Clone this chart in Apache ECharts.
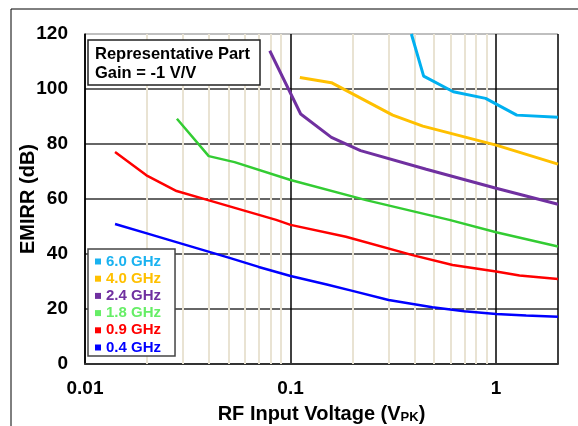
<!DOCTYPE html>
<html>
<head>
<meta charset="utf-8">
<script src="https://cdn.jsdelivr.net/npm/echarts@6/dist/echarts.min.js"></script>
<style>
html,body{margin:0;padding:0;background:#fff;}
#chart{width:578px;height:426px;}
</style>
</head>
<body>
<div id="chart"></div>
<script>
// ---- data ----
var seriesNames = ['6.0 GHz', '4.0 GHz', '2.4 GHz', '1.8 GHz', '0.9 GHz', '0.4 GHz'];
var lineColors = ['#00b0f0', '#ffc000', '#7030a0', '#33cc33', '#ff0000', '#0000ff'];
var legendTextColors = ['#1ab2f0', '#ffc000', '#7030a0', '#66ee66', '#ff0000', '#0000ff'];

var x60 = [0.387, 0.444, 0.619, 0.889, 1.26, 2.0];
var y60 = [120, 104.7, 99.0, 96.6, 90.5, 89.7];

var x40 = [0.111, 0.158, 0.314, 0.44, 1.0, 2.0];
var y40 = [104.2, 102.3, 90.5, 86.5, 79.6, 72.7];

var x24 = [0.0792, 0.112, 0.158, 0.219, 0.457, 1.0, 2.0];
var y24 = [113.9, 90.9, 82.4, 77.6, 70.8, 63.9, 58.1];

var x18 = [0.028, 0.04, 0.0534, 0.1, 0.233, 0.592, 1.0, 2.0];
var y18 = [89.2, 75.6, 73.4, 66.9, 59.6, 52.4, 47.9, 42.7];

var x09 = [0.014, 0.0199, 0.0279, 0.0397, 0.0851, 0.1, 0.186, 0.392, 0.614, 1.0, 1.3, 2.0];
var y09 = [77.1, 68.6, 62.9, 59.6, 52.4, 50.6, 46.3, 39.6, 36.0, 33.6, 32.2, 30.9];

var x04 = [0.014, 0.02, 0.03, 0.05, 0.07, 0.1, 0.15, 0.2, 0.3, 0.49, 0.7, 1.0, 1.4, 2.0];
var y04 = [50.9, 47.5, 43.6, 38.7, 35.3, 32.0, 28.9, 26.6, 23.3, 20.6, 19.2, 18.2, 17.6, 17.2];

var xMinorGrid = [0.02, 0.03, 0.04, 0.05, 0.06, 0.07, 0.08, 0.09,
                  0.2, 0.3, 0.4, 0.5, 0.6, 0.7, 0.8, 0.9];
var xTickLabels = [0.01, 0.1, 1];
var yTicks = [0, 20, 40, 60, 80, 100, 120];

var seriesX = [x60, x40, x24, x18, x09, x04];
var seriesY = [y60, y40, y24, y18, y09, y04];
var lineWidths = [3, 3, 3, 2.5, 2.5, 2.5];

function pairs(xs, ys) { return xs.map(function (v, i) { return [v, ys[i]]; }); }

var FONT = 'Liberation Sans, Arial, sans-serif';

var chart = echarts.init(document.getElementById('chart'), null, {renderer: 'canvas'});

var series = [{
  type: 'line', data: [], silent: true, z: 1,
  markLine: {
    silent: true, symbol: ['none', 'none'], animation: false,
    label: {show: false},
    lineStyle: {color: '#e9e3d3', width: 2, type: 'solid'},
    data: xMinorGrid.map(function (v) { return {xAxis: v}; })
  }
}];
seriesNames.forEach(function (n, i) {
  series.push({
    name: n, type: 'line', data: pairs(seriesX[i], seriesY[i]),
    symbol: 'none', z: 5 + i,
    lineStyle: {color: lineColors[i], width: lineWidths[i]},
    itemStyle: {color: lineColors[i]},
    animation: false, clip: true
  });
});

var option = {
  animation: false,
  backgroundColor: '#fff',
  grid: {left: 85, top: 34, width: 473, height: 330, show: false, containLabel: false, outerBoundsMode: 'none'},
  xAxis: {
    type: 'log', logBase: 10, min: 0.01, max: 2, z: 3,
    axisLine: {show: true, onZero: false, lineStyle: {color: '#333', width: 2}},
    axisTick: {show: false},
    splitLine: {show: true, lineStyle: {color: '#000', width: 1.5}},
    axisLabel: {
      show: true, margin: 15, color: '#000', fontSize: 19, fontWeight: 'bold', fontFamily: FONT,
      showMaxLabel: false,
      formatter: function (v) {
        for (var i = 0; i < xTickLabels.length; i++) {
          if (Math.abs(v - xTickLabels[i]) < 1e-9) return String(xTickLabels[i]);
        }
        return '';
      }
    },
    name: '{t|RF Input Voltage (V}{s|PK}{t|)}',
    nameLocation: 'middle', nameGap: 36, nameMoveOverlap: false,
    nameTextStyle: {
      rich: {
        t: {fontSize: 20, fontWeight: 'bold', fontFamily: FONT, color: '#000', lineHeight: 24, verticalAlign: 'bottom'},
        s: {fontSize: 13, fontWeight: 'bold', fontFamily: FONT, color: '#000', lineHeight: 14, verticalAlign: 'bottom'}
      }
    }
  },
  yAxis: {
    type: 'value', min: 0, max: 120, interval: 20, z: 3,
    axisLine: {show: true, lineStyle: {color: '#000', width: 1.5}},
    axisTick: {show: false},
    splitLine: {show: true, lineStyle: {color: ['#333', '#333', '#333', '#333', '#333', '#333', '#aaa'], width: 1.5}},
    axisLabel: {
      margin: 17, color: '#000', fontSize: 19, fontWeight: 'bold', fontFamily: FONT,
      formatter: function (v) { return yTicks.indexOf(v) >= 0 ? String(v) : ''; }
    },
    name: 'EMIRR (dB)', nameLocation: 'middle', nameGap: 47, nameMoveOverlap: false,
    nameTextStyle: {fontSize: 20, fontWeight: 'bold', fontFamily: FONT, color: '#000'}
  },
  legend: {
    orient: 'vertical', left: 88, top: 249, z: 10,
    backgroundColor: '#fff', borderColor: '#444', borderWidth: 1.5,
    padding: [4, 14, 0, 7], itemGap: 0.2,
    itemWidth: 6, itemHeight: 6, icon: 'rect',
    textStyle: {fontSize: 15, fontWeight: 'bold', fontFamily: FONT, lineHeight: 17},
    data: seriesNames.map(function (n, i) {
      return {name: n, icon: 'rect', itemStyle: {color: legendTextColors[i]}, textStyle: {color: legendTextColors[i]}};
    }),
    selectedMode: false
  },
  graphic: [
    {type: 'rect', shape: {x: 11, y: 9, width: 700, height: 600}, style: {fill: 'none', stroke: '#000', lineWidth: 1}, z: 0, silent: true},
    {type: 'rect', shape: {x: 88, y: 40, width: 172, height: 45}, style: {fill: '#fff', stroke: '#222', lineWidth: 1.5}, z: 100, silent: true},
    {type: 'text', x: 95, y: 45.5, z: 101, silent: true,
     style: {text: 'Representative Part\nGain = -1 V/V', fill: '#000', font: 'bold 16.5px ' + FONT, lineHeight: 18.5}}
  ],
  series: series
};
chart.setOption(option);
</script>
</body>
</html>
